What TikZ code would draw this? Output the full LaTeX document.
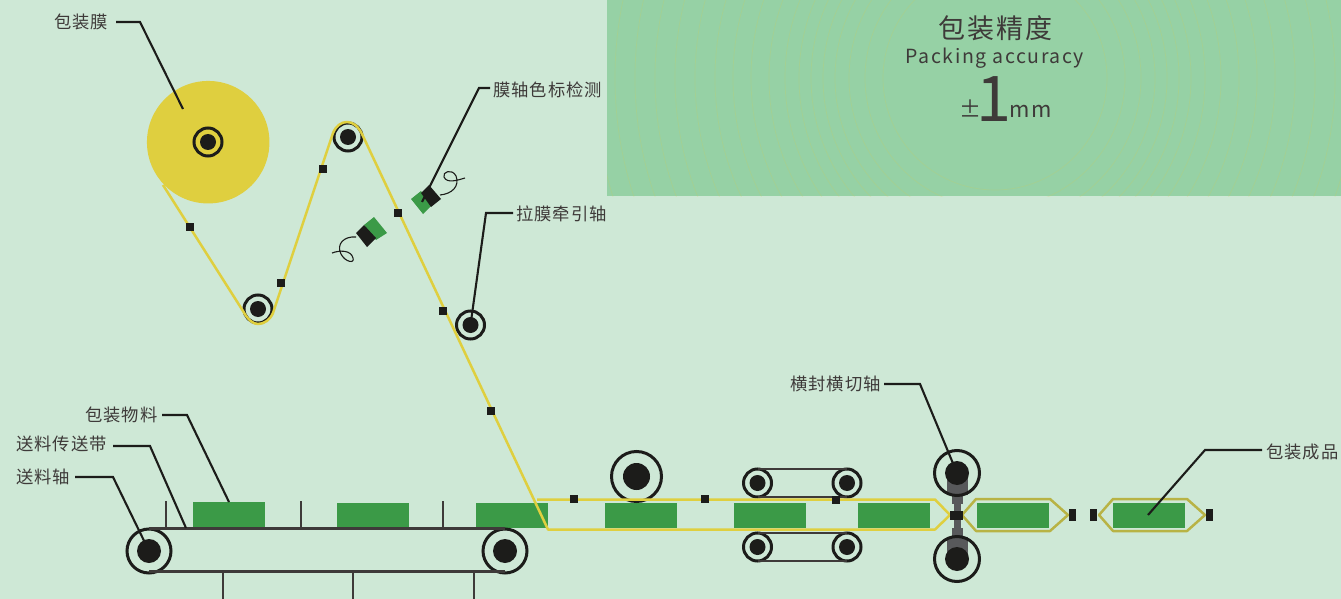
\documentclass[tikz,border=0pt]{standalone}
\usepackage{fontspec}
\setmainfont{Noto Sans CJK SC}
\usetikzlibrary{positioning}
\definecolor{bgmint}{HTML}{CEE8D6}
\definecolor{panelgreen}{HTML}{96D1A5}
\definecolor{packgreen}{HTML}{3B9A47}
\definecolor{filmyellow}{HTML}{DFCF3F}
\definecolor{filmolive}{HTML}{B8B345}
\definecolor{inkblack}{HTML}{1C1C1A}
\definecolor{bargray}{HTML}{58595B}
\definecolor{textgray}{HTML}{3E3A39}

\begin{document}
\begin{tikzpicture}[x=1pt,y=-1pt]

	\tikzstyle{roller_ring} = [circle, draw=inkblack, line width=3pt, inner sep=0pt, outer sep=0pt]
	\tikzstyle{roller_hub} = [circle, fill=inkblack, inner sep=0pt, outer sep=0pt]
	\tikzstyle{film_mark} = [rectangle, fill=inkblack, minimum size=8pt, inner sep=0pt]
	\tikzstyle{end_mark} = [rectangle, fill=inkblack, minimum width=7pt, minimum height=12pt, inner sep=0pt]
	\tikzstyle{pack} = [rectangle, fill=packgreen, minimum width=72pt, minimum height=25pt, inner sep=0pt]
	\tikzstyle{label_text} = [anchor=west, inner sep=0pt, text=textgray, font=\addfontfeatures{LetterSpace=6}\fontsize{17.3}{17}\selectfont]
	\tikzstyle{leader} = [draw=inkblack, line width=2.1pt, line join=miter]
	\tikzstyle{film} = [draw=filmyellow, line width=2.5pt, line join=round]
	\tikzstyle{film_done} = [draw=filmolive, line width=2.5pt, line join=round]
	\tikzstyle{belt} = [draw=textgray, line width=2.2pt]
	\tikzstyle{thin_belt} = [draw=textgray, line width=1.5pt]
	\tikzstyle{wire} = [draw=inkblack, line width=1.1pt]
	\tikzstyle{bar} = [rectangle, fill=bargray, inner sep=0pt]

	\useasboundingbox (0,0) rectangle (1341,599);
	\fill[bgmint] (0,0) rectangle (1341,599);
%------------------------------------------------------------
	\fill[panelgreen] (607,0) rectangle (1341,196);
	\begin{scope}
		\clip (607,0) rectangle (1341,196);
		\foreach \rad in {112,130,146,160,172,184,196,210,226,244,262,280,300,320,340,360,380,400,420,440}
			\draw[filmyellow, opacity=0.18, line width=0.7pt] (995,78) circle (\rad);
	\end{scope}

	\node[anchor=center, inner sep=0pt, text=textgray, font=\addfontfeatures{LetterSpace=7}\fontsize{27}{27}\selectfont] (title) at (995.5,28) {包装精度};
	\node[anchor=base, inner sep=0pt, text=textgray, font=\addfontfeatures{LetterSpace=8}\fontsize{19.5}{20}\selectfont] (subtitle) at (995,63.5) {Packing accuracy};
	\node[anchor=base, inner sep=0pt, text=textgray, font=\fontsize{63}{63}\selectfont] (one) at (994,122) {\makebox[26pt]{1}};
	\node[anchor=base east, inner sep=0pt, text=textgray, font=\fontsize{22}{22}\selectfont] (pm) at (980.5,118) {\makebox[17pt][r]{±\kern-1.5pt}};
	\node[anchor=base west, inner sep=0pt, text=textgray, font=\addfontfeatures{LetterSpace=10}\fontsize{22}{22}\selectfont] (mm) at (1009,118) {mm};
%------------------------------------------------------------
	\node[circle, fill=filmyellow, minimum size=122.5pt, inner sep=0pt] (reel) at (208.2,142.2) {};
	\node[roller_ring, minimum size=28pt] (reel_ring) at (208,142) {};
	\node[roller_hub, minimum size=16pt] (reel_hub) at (208,142) {};

	\node[roller_ring, minimum size=28pt] (low_ring) at (258,309) {};
	\node[roller_hub, minimum size=16pt] (low_hub) at (258,309) {};
	\node[roller_ring, minimum size=28pt] (top_ring) at (348,137) {};
	\node[roller_hub, minimum size=16pt] (top_hub) at (348,137) {};
	\node[roller_ring, minimum size=28pt] (pull_ring) at (470.5,325) {};
	\node[roller_hub, minimum size=16pt] (pull_hub) at (470.5,325) {};
%------------------------------------------------------------
	\node[pack, minimum height=26pt] (p1) at (229,515) {};
	\node[pack] (p2) at (373,515.5) {};
	\node[pack] (p3) at (512,515.5) {};
	\node[pack] (p4) at (641,515.5) {};
	\node[pack] (p5) at (770,515.5) {};
	\node[pack] (p6) at (894,515.5) {};
	\node[pack] (p7) at (1013,515.5) {};
	\node[pack] (p8) at (1149,515.5) {};
%------------------------------------------------------------
	\node[roller_ring, minimum size=44pt] (cl) at (149,551) {};
	\node[roller_hub, minimum size=24pt] (cl_hub) at (149,551) {};
	\node[roller_ring, minimum size=44pt] (cr) at (505,551) {};
	\node[roller_hub, minimum size=24pt] (cr_hub) at (505,551) {};

	\coordinate (bt1) at (149,528.5);
	\coordinate (bt2) at (505,528.5);
	\coordinate (bb1) at (149,571.5);
	\coordinate (bb2) at (505,571.5);
	\draw[belt] (bt1) -- (bt2);
	\draw[belt] (bb1) -- (bb2);

	\coordinate (t1) at (166,501);
	\coordinate (t2) at (301,501);
	\coordinate (t3) at (443,501);
	\coordinate (l1) at (223,599);
	\coordinate (l2) at (353,599);
	\coordinate (l3) at (474,599);
	\draw[belt] (t1) -- (t1 |- bt1);
	\draw[belt] (t2) -- (t2 |- bt1);
	\draw[belt] (t3) -- (t3 |- bt1);
	\draw[belt] (l1) -- (l1 |- bb1);
	\draw[belt] (l2) -- (l2 |- bb1);
	\draw[belt] (l3) -- (l3 |- bb1);
%------------------------------------------------------------
	\node[roller_ring, minimum size=50pt] (press) at (636.5,476.5) {};
	\node[roller_hub, minimum size=27pt] (press_hub) at (636.5,476.5) {};

	\node[roller_ring, minimum size=28pt] (a1) at (757.5,483) {};
	\node[roller_hub, minimum size=16pt] (a1_hub) at (757.5,483) {};
	\node[roller_ring, minimum size=28pt] (a2) at (847,483) {};
	\node[roller_hub, minimum size=16pt] (a2_hub) at (847,483) {};
	\node[roller_ring, minimum size=28pt] (b1) at (757.5,547) {};
	\node[roller_hub, minimum size=16pt] (b1_hub) at (757.5,547) {};
	\node[roller_ring, minimum size=28pt] (b2) at (847,547) {};
	\node[roller_hub, minimum size=16pt] (b2_hub) at (847,547) {};

	\draw[thin_belt] (a1.north) -- (a2.north);
	\draw[thin_belt] (a1.south) -- (a2.south);
	\draw[thin_belt] (b1.north) -- (b2.north);
	\draw[thin_belt] (b1.south) -- (b2.south);
%------------------------------------------------------------
	\node[bar, minimum width=21pt, minimum height=17pt] (s1) at (957.5,486.5) {};
	\node[bar, minimum width=11pt, minimum height=11pt] (s2) at (957.5,498.5) {};
	\node[bar, minimum width=7pt, minimum height=36pt] (s3) at (957.5,515.5) {};
	\node[bar, minimum width=11pt, minimum height=10pt] (s4) at (957.5,532.5) {};
	\node[bar, minimum width=21pt, minimum height=18pt] (s5) at (957.5,546) {};

	\node[roller_ring, minimum size=45pt] (up_seal) at (957,473) {};
	\node[roller_hub, minimum size=24pt] (up_hub) at (957,473) {};
	\node[roller_ring, minimum size=45pt] (down_seal) at (957,559) {};
	\node[roller_hub, minimum size=24pt] (down_hub) at (957,559) {};
%------------------------------------------------------------
	\coordinate (f0) at (163,185);
	\coordinate (f1) at (243,311);
	\coordinate (f2) at (258,324);
	\coordinate (f3) at (273,313);
	\coordinate (f4) at (333,133);
	\coordinate (f5) at (347,122);
	\coordinate (f6) at (362,134);
	\coordinate (f7) at (548,529.5);
	\coordinate (f8) at (935,529.5);
	\coordinate (f9) at (950,515);
	\coordinate (f10) at (935,499.5);
	\coordinate (f11) at (537,499.5);

	\draw[film] (f0) -- (f1) .. controls (248,320) and (253,324) .. (f2) .. controls (264,324) and (270,320) .. (f3) -- (f4) .. controls (336,126) and (341,122) .. (f5) .. controls (353,122) and (358,126) .. (f6) -- (f7) -- (f8) -- (f9) -- (f10) -- (f11);

	\coordinate (g1) at (962,515);
	\coordinate (g2) at (976,499);
	\coordinate (g3) at (1050,499);
	\coordinate (g4) at (1068,515);
	\coordinate (g5) at (1050,531);
	\coordinate (g6) at (976,531);
	\draw[film_done] (g1) -- (g2) -- (g3) -- (g4) -- (g5) -- (g6) -- cycle;

	\coordinate (k1) at (1099,515);
	\coordinate (k2) at (1113,499);
	\coordinate (k3) at (1187,499);
	\coordinate (k4) at (1205,515);
	\coordinate (k5) at (1187,531);
	\coordinate (k6) at (1113,531);
	\draw[film_done] (k1) -- (k2) -- (k3) -- (k4) -- (k5) -- (k6) -- cycle;
%------------------------------------------------------------
	\node[film_mark] (m1) at (190,227) {};
	\node[film_mark] (m2) at (281,283) {};
	\node[film_mark] (m3) at (323,169) {};
	\node[film_mark] (m4) at (398,213) {};
	\node[film_mark] (m5) at (443,311) {};
	\node[film_mark] (m6) at (491,411) {};
	\node[film_mark] (m7) at (574,499) {};
	\node[film_mark] (m8) at (705,499) {};
	\node[film_mark] (m9) at (836,500) {};

	\node[rectangle, fill=inkblack, minimum width=13pt, minimum height=9pt, inner sep=0pt] (cut) at (956.5,515.5) {};
	\node[end_mark] (e1) at (1072.5,515) {};
	\node[end_mark] (e2) at (1093.5,515) {};
	\node[end_mark] (e3) at (1209.5,515) {};
%------------------------------------------------------------
	\fill[packgreen] (421,191) -- (431,206) -- (423,214) -- (411,199) -- cycle;
	\fill[inkblack] (429,185) -- (441,199) -- (431,207) -- (421,193) -- cycle;
	\fill[packgreen] (364,225) -- (374,217) -- (387,233) -- (376,240) -- cycle;
	\fill[inkblack] (356,233) -- (364,225) -- (376,238) -- (367,247) -- cycle;

	\coordinate (w1) at (440,195);
	\coordinate (w2) at (465,178);
	\coordinate (w3) at (356,237);
	\coordinate (w4) at (332,253);
	\draw[wire] (w1) .. controls (452,194) and (460,186) .. (456,176) .. controls (452,168) and (442,172) .. (444,177) .. controls (447,184) and (458,180) .. (w2);
	\draw[wire] (w3) .. controls (344,236) and (336,244) .. (341,254) .. controls (345,262) and (355,264) .. (353,258) .. controls (351,250) and (340,250) .. (w4);
%------------------------------------------------------------
	\node[label_text] (n1) at (54,21.5) {包装膜};
	\node[label_text] (n2) at (493,89.5) {膜轴色标检测};
	\node[label_text] (n3) at (516,213.5) {拉膜牵引轴};
	\node[label_text] (n4) at (85,414.5) {包装物料};
	\node[label_text] (n5) at (16,443.5) {送料传送带};
	\node[label_text] (n6) at (16,476.5) {送料轴};
	\node[label_text] (n7) at (790,383.5) {横封横切轴};
	\node[label_text] (n8) at (1266,451.5) {包装成品};

	\coordinate (q1a) at (116,22);
	\coordinate (q1b) at (140,22);
	\coordinate (q1c) at (183,109);
	\draw[leader] (q1a) -- (q1b) -- (q1c);
	\coordinate (q2a) at (490,88);
	\coordinate (q2b) at (479,88);
	\coordinate (q2c) at (422,202);
	\draw[leader] (q2a) -- (q2b) -- (q2c);
	\coordinate (q3a) at (513,213);
	\coordinate (q3b) at (486,213);
	\draw[leader] (q3a) -- (q3b) -- (pull_hub.center);
	\coordinate (q4a) at (162,415);
	\coordinate (q4b) at (187,415);
	\coordinate (q4c) at (229,502);
	\draw[leader] (q4a) -- (q4b) -- (q4c);
	\coordinate (q5a) at (113,446);
	\coordinate (q5b) at (150,446);
	\coordinate (q5c) at (186,528);
	\draw[leader] (q5a) -- (q5b) -- (q5c);
	\coordinate (q6a) at (75,477);
	\coordinate (q6b) at (113,477);
	\draw[leader] (q6a) -- (q6b) -- (cl_hub.center);
	\coordinate (q7a) at (884,384);
	\coordinate (q7b) at (920,384);
	\draw[leader] (q7a) -- (q7b) -- (up_hub.center);
	\coordinate (q8a) at (1262,450);
	\coordinate (q8b) at (1205,450);
	\coordinate (q8c) at (1148,515);
	\draw[leader] (q8a) -- (q8b) -- (q8c);

\end{tikzpicture}
\end{document}
